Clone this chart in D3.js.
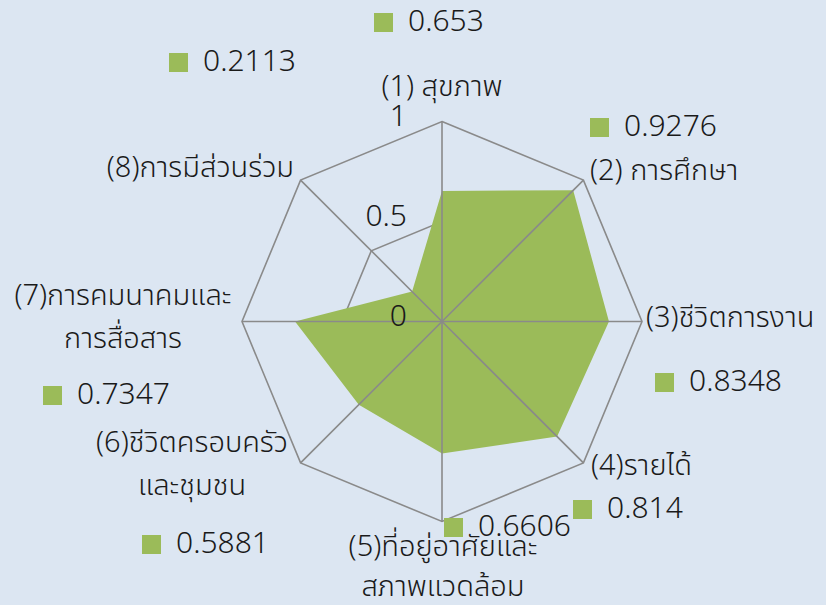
<!DOCTYPE html>
<html><head><meta charset="utf-8">
<script src="https://cdn.jsdelivr.net/npm/d3@7"></script>
<style>
html,body{margin:0;padding:0;background:#dce6f2;}
svg{display:block;}
text{font-family:"Noto Sans Thai","Noto Sans Thai UI","Loma","Garuda","Norasi","Waree","Sawasdee","Laksaman",sans-serif;fill:#1a1a1a;font-weight:300;}
</style></head>
<body>
<svg id="chart" width="826" height="605"></svg>
<script>
// ---- data ----
const categories = [
  ["(1) สุขภาพ"],
  ["(2) การศึกษา"],
  ["(3)ชีวิตการงาน"],
  ["(4)รายได้"],
  ["(5)ที่อยู่อาศัยและ", "สภาพแวดล้อม"],
  ["(6)ชีวิตครอบครัว", "และชุมชน"],
  ["(7)การคมนาคมและ", "การสื่อสาร"],
  ["(8)การมีส่วนร่วม"]
];
const values = [0.653, 0.9276, 0.8348, 0.814, 0.6606, 0.5881, 0.7347, 0.2113];
const valueLabels = ["0.653", "0.9276", "0.8348", "0.814", "0.6606", "0.5881", "0.7347", "0.2113"];
const tickValues = [0, 0.5, 1];
const tickLabels = ["0", "0.5", "1"];

// ---- layout (text placement only) ----
const catPos = [ // [x, baseline y of first line, anchor]
  [442, 96, "middle"],
  [590, 180, "start"],
  [646, 327, "start"],
  [591, 475, "start"],
  [443, 556, "middle"],
  [192, 452, "middle"],
  [123, 305, "middle"],
  [294, 177, "end"]
];
const lineGap = [0, 0, 0, 0, 40, 43, 43, 0];
const valPos = [ // square left x, square top y
  [374, 13], [590, 118], [655, 373], [573, 500], [444, 518], [142, 535], [43, 386], [169, 53]
];

const cx = 442, cy = 321.5, R = 200;
const svg = d3.select("#chart");
const n = values.length;
const r = d3.scaleLinear().domain([0, 1]).range([0, R]);
const ang = d3.scaleLinear().domain([0, n]).range([0, 2 * Math.PI]);
const pt = (i, v) => [cx + r(v) * Math.sin(ang(i)), cy - r(v) * Math.cos(ang(i))];
const gridColor = "#8a8a8a";

// grid polygons
const gridLevels = [0.5, 1];
svg.append("g").selectAll("polygon").data(gridLevels).join("polygon")
  .attr("points", lv => d3.range(n).map(i => pt(i, lv).join(",")).join(" "))
  .attr("fill", "none").attr("stroke", gridColor).attr("stroke-width", 1.6);

// data area
svg.append("path")
  .datum(values)
  .attr("d", d3.line()(values.map((v, i) => pt(i, v))) + "Z")
  .attr("fill", "#9bbb59");

// spokes
svg.append("g").selectAll("line").data(d3.range(n)).join("line")
  .attr("x1", cx).attr("y1", cy)
  .attr("x2", i => pt(i, 1)[0]).attr("y2", i => pt(i, 1)[1])
  .attr("stroke", gridColor).attr("stroke-width", 1.6);

// tick labels
svg.append("g").selectAll("text").data(tickValues).join("text")
  .attr("x", 407).attr("y", v => cy - r(v) - 5)
  .attr("text-anchor", "end").attr("dominant-baseline", "central")
  .attr("font-size", 30)
  .text((v, i) => tickLabels[i]);

// category labels
const cg = svg.append("g");
categories.forEach((lines, i) => {
  const t = cg.append("text")
    .attr("x", catPos[i][0]).attr("y", catPos[i][1])
    .attr("text-anchor", catPos[i][2]).attr("font-size", 29);
  lines.forEach((s, j) => {
    t.append("tspan").attr("x", catPos[i][0]).attr("y", catPos[i][1] + j * lineGap[i]).text(s);
  });
});

// value labels
const vg = svg.append("g");
values.forEach((v, i) => {
  vg.append("rect").attr("x", valPos[i][0]).attr("y", valPos[i][1])
    .attr("width", 19).attr("height", 19).attr("fill", "#9bbb59");
  vg.append("text").attr("x", valPos[i][0] + 34).attr("y", valPos[i][1] + 18)
    .attr("font-size", 30).text(valueLabels[i]);
});
</script>
</body></html>
